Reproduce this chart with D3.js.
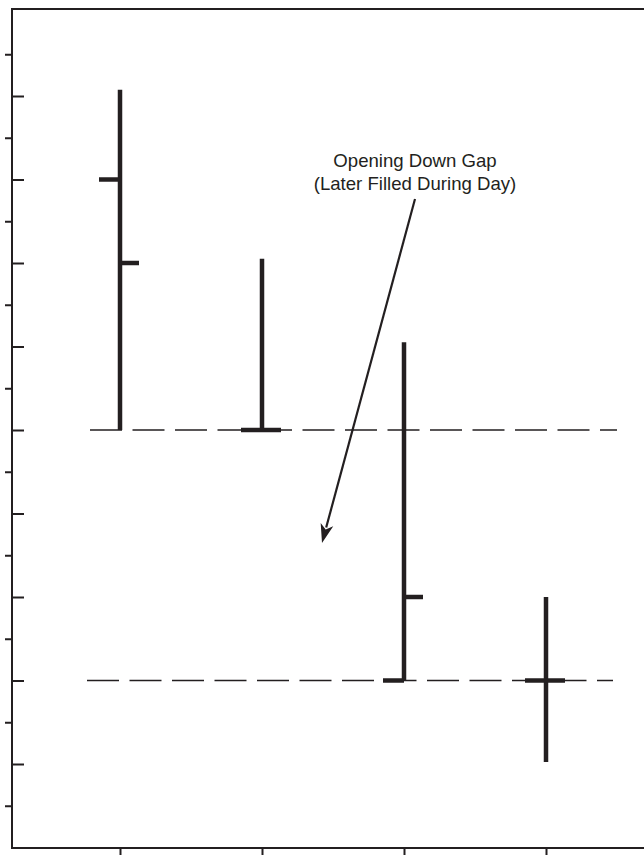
<!DOCTYPE html>
<html>
<head>
<meta charset="utf-8">
<script src="https://cdn.jsdelivr.net/npm/d3@7"></script>
<style>
  html, body { margin: 0; padding: 0; background: #fff; }
  svg { display: block; }
</style>
</head>
<body>
<svg id="chart" width="644" height="855"></svg>
<script>
// ---- data ----
const days   = ["Day 1", "Day 2", "Day 3", "Day 4"];
const opens  = [16, 10, 4, 4];
const highs  = [18.15, 14.1, 12.1, 6.0];
const lows   = [10, 10, 4, 2.05];
const closes = [14, 10, 6, 4];
const gapLevels = [10, 4];
const yTickValues = [1,2,3,4,5,6,7,8,9,10,11,12,13,14,15,16,17,18,19];
const annotationLines = ["Opening Down Gap", "(Later Filled During Day)"];

// ---- setup ----
const ink = "#231f20";
const svg = d3.select("#chart");
const x = d3.scalePoint().domain(days).range([120, 546]);
const y = d3.scaleLinear().domain([0, 20]).range([847.5, 12.5]);

// frame: left, top and bottom
const frame = svg.append("g").attr("stroke", ink).attr("stroke-width", 2).attr("fill", "none");
frame.append("path").attr("d", `M644,9 H12 V848 H644`);

// y ticks: odd values outward (left), even values inward (right)
const yOuter = d3.axisLeft(y).tickValues(yTickValues.filter(v => v % 2 === 1)).tickSize(7).tickFormat("");
const yInner = d3.axisRight(y).tickValues(yTickValues.filter(v => v % 2 === 0)).tickSize(12).tickFormat("");
svg.append("g").attr("transform", "translate(12,0)").call(yOuter)
  .call(g => g.select(".domain").remove())
  .selectAll("line").attr("stroke", ink).attr("stroke-width", 2);
svg.append("g").attr("transform", "translate(12,0)").call(yInner)
  .call(g => g.select(".domain").remove())
  .selectAll("line").attr("stroke", ink).attr("stroke-width", 2);

// x ticks
const xAxis = d3.axisBottom(x).tickSize(8).tickFormat("");
svg.append("g").attr("transform", "translate(0,848)").call(xAxis)
  .call(g => g.select(".domain").remove())
  .selectAll("line").attr("stroke", ink).attr("stroke-width", 2);

// dashed gap lines
const gapExt = [[-30, 71], [-33, 67]];
svg.append("g").selectAll("line").data(gapLevels).join("line")
  .attr("x1", (d, i) => x(days[0]) + gapExt[i][0])
  .attr("x2", (d, i) => x(days[3]) + gapExt[i][1])
  .attr("y1", d => y(d)).attr("y2", d => y(d))
  .attr("stroke", ink).attr("stroke-width", 1.5)
  .attr("stroke-dasharray", "32,10.5");

// OHLC bars
const bars = days.map((d, i) => ({ day: d, o: opens[i], h: highs[i], l: lows[i], c: closes[i] }));
const bg = svg.append("g").attr("stroke", ink).attr("stroke-width", 4.5);
bg.selectAll(".hl").data(bars).join("line").attr("class", "hl")
  .attr("x1", d => x(d.day)).attr("x2", d => x(d.day))
  .attr("y1", d => y(d.h)).attr("y2", d => y(d.l));
bg.selectAll(".op").data(bars).join("line").attr("class", "op")
  .attr("x1", d => x(d.day) - 21).attr("x2", d => x(d.day))
  .attr("y1", d => y(d.o)).attr("y2", d => y(d.o));
bg.selectAll(".cl").data(bars).join("line").attr("class", "cl")
  .attr("x1", d => x(d.day)).attr("x2", d => x(d.day) + 19)
  .attr("y1", d => y(d.c)).attr("y2", d => y(d.c));

// annotation
const tx = 415;
svg.append("g").selectAll("text").data(annotationLines).join("text")
  .attr("x", tx).attr("y", (d, i) => 167 + i * 23)
  .attr("text-anchor", "middle")
  .attr("font-family", "'Liberation Sans', Arial, Helvetica, sans-serif")
  .attr("font-size", 18.6).attr("fill", ink)
  .text(d => d);

// arrow
const start = [415, 199], tip = [322, 543];
const ang = Math.atan2(tip[1] - start[1], tip[0] - start[0]);
const headLen = 19, headHalf = 6.5;
const bx = tip[0] - headLen * Math.cos(ang), by = tip[1] - headLen * Math.sin(ang);
svg.append("line")
  .attr("x1", start[0]).attr("y1", start[1]).attr("x2", bx + 3 * Math.cos(ang)).attr("y2", by + 3 * Math.sin(ang))
  .attr("stroke", ink).attr("stroke-width", 2.2);
const px = -Math.sin(ang), py = Math.cos(ang);
const notch = 5;
const nx = bx + notch * Math.cos(ang), ny = by + notch * Math.sin(ang);
svg.append("path")
  .attr("d", `M${tip[0]},${tip[1]} L${bx + px * headHalf},${by + py * headHalf} L${nx},${ny} L${bx - px * headHalf},${by - py * headHalf} Z`)
  .attr("fill", ink);
</script>
</body>
</html>
